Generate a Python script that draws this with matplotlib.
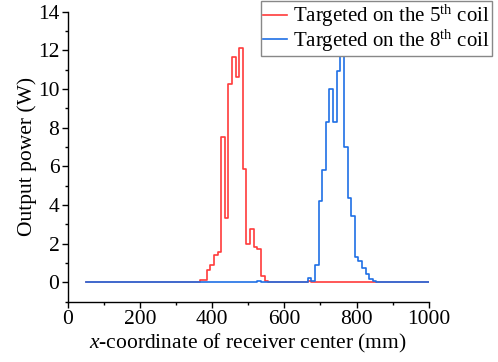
import numpy as np
import matplotlib
matplotlib.use("Agg")
import matplotlib.pyplot as plt
from matplotlib.ticker import MultipleLocator

plt.rcParams['font.family'] = 'Liberation Serif'
plt.rcParams['mathtext.fontset'] = 'custom'
plt.rcParams['mathtext.rm'] = 'Liberation Serif'
plt.rcParams['mathtext.it'] = 'Liberation Serif:italic'

# receiver x-coordinate (mm), sampled every 10 mm
x_mm = np.arange(50, 1001, 10)

# non-zero output power (W) keyed by x position; everything else is 0
coil5_vals = {
    360: 0.02, 370: 0.1, 380: 0.1, 390: 0.62, 400: 0.88, 410: 1.4, 420: 1.57,
    430: 7.5, 440: 3.3, 450: 10.23, 460: 11.66, 470: 10.64, 480: 12.14,
    490: 5.85, 500: 1.98, 510: 2.74, 520: 1.81, 530: 1.74, 540: 0.31,
    550: 0.05, 560: 0.02, 570: 0.01, 580: 0.01, 600: 0.01, 620: 0.01,
    670: 0.05, 680: 0.03,
}
coil8_vals = {
    520: 0.03, 530: 0.05, 540: 0.02, 610: 0.01, 640: 0.01,
    670: 0.22, 680: 0.05, 690: 0.88, 700: 4.22, 710: 5.8, 720: 8.27,
    730: 9.99, 740: 8.27, 750: 10.94, 760: 11.73, 770: 6.97, 780: 4.37,
    790: 3.43, 800: 1.29, 810: 1.1, 820: 0.76, 830: 0.4, 840: 0.17, 850: 0.04,
}

labels = [r'Targeted on the 5$^{\mathrm{th}}$ coil',
          r'Targeted on the 8$^{\mathrm{th}}$ coil']
colors = ['#FF3B3B', '#1F6FE5']

p_coil5 = np.array([coil5_vals.get(int(v), 0.0) for v in x_mm])
p_coil8 = np.array([coil8_vals.get(int(v), 0.0) for v in x_mm])

fs = 15.5

fig = plt.figure(figsize=(4.98, 3.62), dpi=100)
ax = fig.add_axes([0.136, 0.167, 0.725, 0.801])

ax.plot(x_mm, p_coil5, drawstyle='steps-mid', color=colors[0], lw=1.2, label=labels[0])
ax.plot(x_mm, p_coil8, drawstyle='steps-mid', color=colors[1], lw=1.2, label=labels[1])

ax.set_xlim(0, 1000)
ax.set_ylim(-1, 14)
ax.xaxis.set_major_locator(MultipleLocator(200))
ax.xaxis.set_minor_locator(MultipleLocator(100))
ax.set_yticks(np.arange(0, 15, 2))
ax.yaxis.set_minor_locator(MultipleLocator(1))
ax.tick_params(which='major', direction='out', length=4, width=1, labelsize=fs, pad=2)
ax.tick_params(which='minor', direction='out', length=2.5, width=1)
for side in ['top', 'right']:
    ax.spines[side].set_visible(False)
for side in ['left', 'bottom']:
    ax.spines[side].set_linewidth(1)

ax.set_xlabel(r'$x$-coordinate of receiver center (mm)', fontsize=fs, labelpad=2)
ax.set_ylabel('Output power (W)', fontsize=fs, labelpad=1)

leg = fig.legend(loc='upper right', bbox_to_anchor=(0.988, 0.997), fontsize=15,
                 handlelength=1.15, handletextpad=0.3, borderpad=0.1,
                 labelspacing=-0.08, borderaxespad=0, fancybox=False,
                 framealpha=1, edgecolor='#888888')
leg.get_frame().set_linewidth(1)

fig.savefig('out.png', dpi=100)
